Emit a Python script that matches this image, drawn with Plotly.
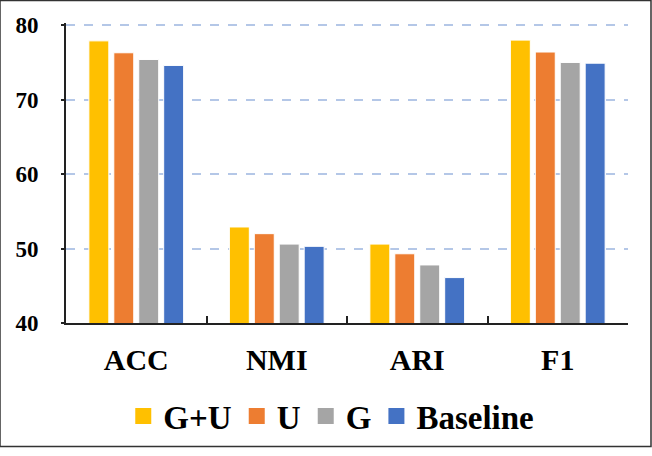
import plotly.graph_objects as go

categories = ["ACC", "NMI", "ARI", "F1"]
series_names = ["G+U", "U", "G", "Baseline"]
gu = [77.9, 52.9, 50.6, 78.0]
u = [76.3, 52.0, 49.3, 76.4]
g = [75.4, 50.6, 47.8, 75.0]
baseline = [74.6, 50.3, 46.1, 74.9]
colors = ["#FFC000", "#ED7D31", "#A5A5A5", "#4472C4"]
y_ticks = [40, 50, 60, 70, 80]

FONT = "Times New Roman, Liberation Serif, serif"
fig = go.Figure()
for name, vals, c in zip(series_names, [gu, u, g, baseline], colors):
    fig.add_trace(go.Bar(x=categories, y=vals, name=name, showlegend=False,
                         marker=dict(color=c, line=dict(color="white", width=1))))
for name, c in zip(series_names, colors):
    fig.add_trace(go.Scatter(x=[None], y=[None], mode="markers", name=name,
                             marker=dict(symbol="square", size=16, color=c)))

T, B, L, R = 23, 127, 66, 24
PH, PW = 456 - T - B, 652 - L - R
fig.update_layout(
    width=652, height=456,
    margin=dict(l=L, r=R, t=T, b=B),
    plot_bgcolor="white", paper_bgcolor="white",
    barmode="group", bargap=0.29, bargroupgap=0.2,
    font=dict(family=FONT, color="black"),
    legend=dict(orientation="h", x=0.472, xanchor="center", y=-0.31, yanchor="middle",
                font=dict(family=FONT, size=33, weight="bold"), itemwidth=30),
    xaxis=dict(showline=True, linecolor="#222", linewidth=2, ticks="inside", ticklen=7,
               tickwidth=2, tickcolor="#222", tickson="boundaries",
               tickfont=dict(family=FONT, size=30, weight="bold"), ticklabelstandoff=9),
    yaxis=dict(range=[40, 80.3], tickvals=y_ticks, showline=True, linecolor="#222", linewidth=2,
               ticks="outside", ticklen=3, tickwidth=2, tickcolor="#222",
               showgrid=True, gridcolor="#B4C7E7", gridwidth=1.5, griddash="dash",
               zeroline=False, tickfont=dict(family=FONT, size=23, weight="bold"),
               ticklabelstandoff=18),
    shapes=[dict(type="rect", xref="paper", yref="paper", x0=-L/PW, x1=1+(R-1)/PW,
                 y0=-(B-1)/PH, y1=1+T/PH, line=dict(color="#333", width=1.5))],
)
fig.write_html("out.html", config=dict(displayModeBar=False),
               post_script="document.body.style.margin='0';")
